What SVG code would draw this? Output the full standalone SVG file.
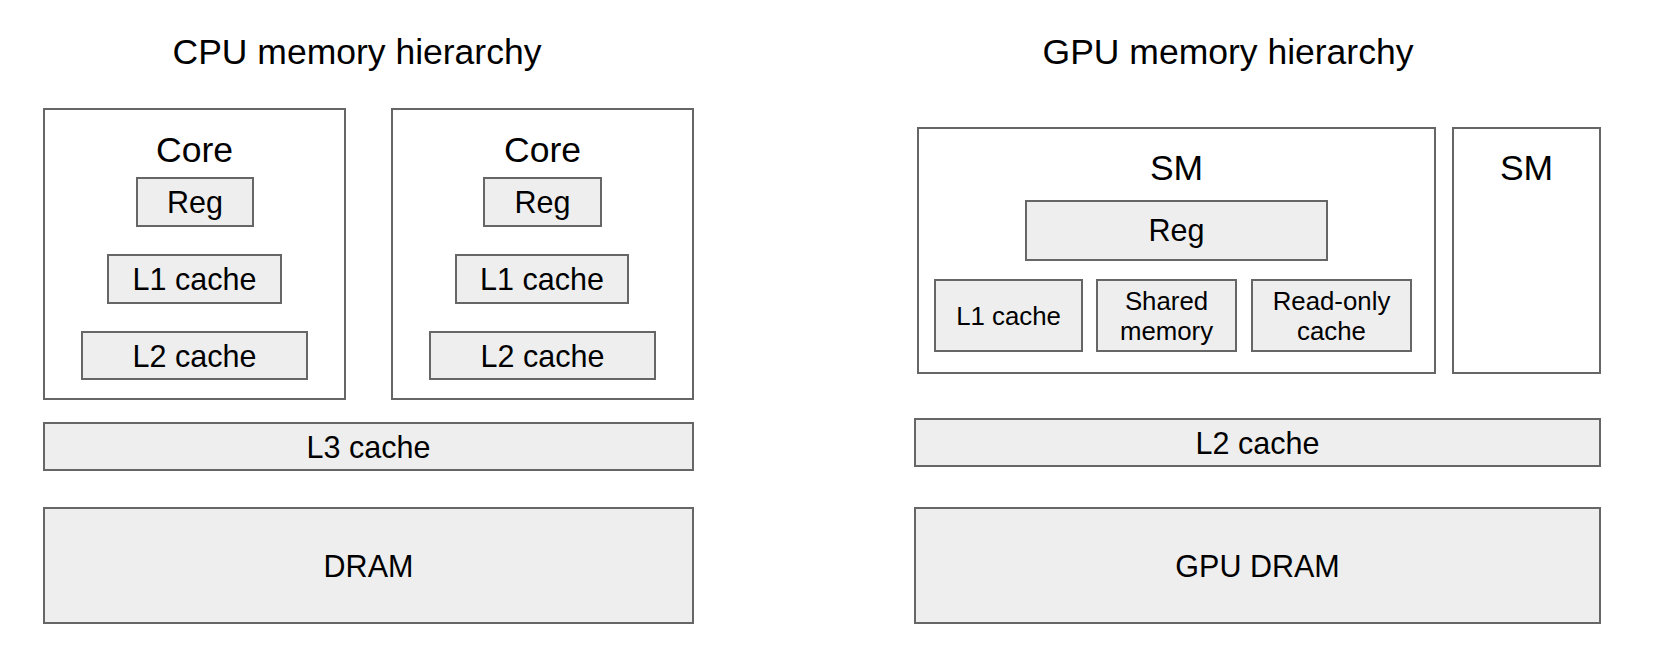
<svg xmlns="http://www.w3.org/2000/svg" width="1658" height="668" viewBox="0 0 1658 668">
<style>
text{font-family:"Liberation Sans",Arial,sans-serif;fill:#000;text-anchor:middle}
.frame{fill:#fff;stroke:#666;stroke-width:2}
.box{fill:#eeeeee;stroke:#666;stroke-width:2}
.title{font-size:35.5px}
.big{font-size:35.5px}
.lbl{font-size:30.5px}
.sm{font-size:25.8px}
</style>
<rect width="1658" height="668" fill="#fff"/>
<g id="cpu">
<text class="title" x="357" y="64">CPU memory hierarchy</text>
<g id="core1">
<rect class="frame" x="44" y="109" width="301" height="290"/>
<text class="big" x="194.5" y="162">Core</text>
<g id="core1-reg"><rect class="box" x="137" y="178" width="116" height="48"/><text class="lbl" x="195" y="213">Reg</text></g>
<g id="core1-l1"><rect class="box" x="108" y="255" width="173" height="48"/><text class="lbl" x="194.5" y="290">L1 cache</text></g>
<g id="core1-l2"><rect class="box" x="82" y="332" width="225" height="47"/><text class="lbl" x="194.5" y="367">L2 cache</text></g>
</g>
<g id="core2">
<rect class="frame" x="392" y="109" width="301" height="290"/>
<text class="big" x="542.5" y="162">Core</text>
<g id="core2-reg"><rect class="box" x="484" y="178" width="117" height="48"/><text class="lbl" x="542.5" y="213">Reg</text></g>
<g id="core2-l1"><rect class="box" x="456" y="255" width="172" height="48"/><text class="lbl" x="542" y="290">L1 cache</text></g>
<g id="core2-l2"><rect class="box" x="430" y="332" width="225" height="47"/><text class="lbl" x="542.5" y="367">L2 cache</text></g>
</g>
<g id="l3"><rect class="box" x="44" y="423" width="649" height="47"/><text class="lbl" x="368.5" y="458">L3 cache</text></g>
<g id="dram"><rect class="box" x="44" y="508" width="649" height="115"/><text class="lbl" x="368.5" y="577">DRAM</text></g>
</g>
<g id="gpu">
<text class="title" x="1228" y="64">GPU memory hierarchy</text>
<g id="sm1">
<rect class="frame" x="918" y="128" width="517" height="245"/>
<text class="big" x="1176.5" y="180">SM</text>
<g id="sm1-reg"><rect class="box" x="1026" y="201" width="301" height="59"/><text class="lbl" x="1176.5" y="241">Reg</text></g>
<g id="sm1-l1"><rect class="box" x="935" y="280" width="147" height="71"/><text class="sm" x="1008.5" y="325">L1 cache</text></g>
<g id="sm1-shared"><rect class="box" x="1097" y="280" width="139" height="71"/><text class="sm" x="1166.5" y="310">Shared</text><text class="sm" x="1166.5" y="340">memory</text></g>
<g id="sm1-ro"><rect class="box" x="1252" y="280" width="159" height="71"/><text class="sm" x="1331.5" y="310">Read-only</text><text class="sm" x="1331.5" y="340">cache</text></g>
</g>
<g id="sm2">
<rect class="frame" x="1453" y="128" width="147" height="245"/>
<text class="big" x="1526.5" y="180">SM</text>
</g>
<g id="gpu-l2"><rect class="box" x="915" y="419" width="685" height="47"/><text class="lbl" x="1257.5" y="454">L2 cache</text></g>
<g id="gpu-dram"><rect class="box" x="915" y="508" width="685" height="115"/><text class="lbl" x="1257.5" y="577">GPU DRAM</text></g>
</g>
<g id="connectors"/>
</svg>
